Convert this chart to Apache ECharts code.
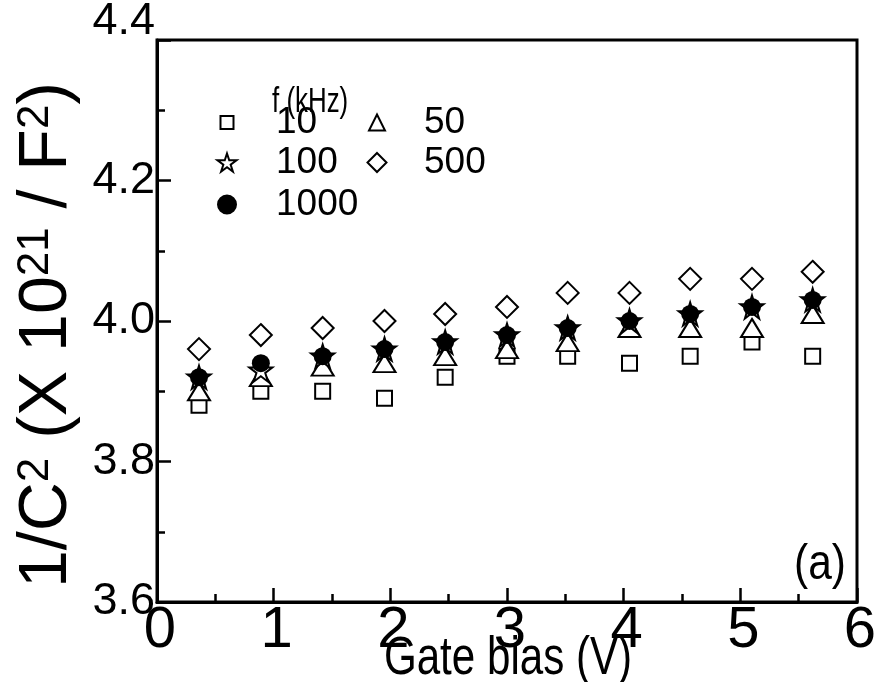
<!DOCTYPE html>
<html><head><meta charset="utf-8">
<script src="https://cdn.jsdelivr.net/npm/echarts@6/dist/echarts.min.js"></script>
<style>html,body{margin:0;padding:0;background:#fff}#c{width:882px;height:682px}</style>
</head><body><div id="c"></div>
<script>
// ---- data ----
const gateBias = [0.36, 0.89, 1.42, 1.95, 2.47, 3.0, 3.52, 4.05, 4.57, 5.1, 5.62];
const f10   = [3.88, 3.90, 3.90, 3.89, 3.92, 3.95, 3.95, 3.94, 3.95, 3.97, 3.95];
const f50   = [3.90, 3.92, 3.935, 3.94, 3.95, 3.96, 3.97, 3.99, 3.99, 3.99, 4.01];
const f100  = [3.92, 3.93, 3.95, 3.96, 3.97, 3.98, 3.99, 4.00, 4.01, 4.02, 4.03];
const f500  = [3.96, 3.98, 3.99, 4.00, 4.01, 4.02, 4.04, 4.04, 4.06, 4.06, 4.07];
const f1000 = [3.92, 3.94, 3.95, 3.96, 3.97, 3.98, 3.99, 4.00, 4.01, 4.02, 4.03];
const seriesNames = ['10', '50', '100', '500', '1000'];
const legendTitle = 'f (kHz)';
const panelLabel = '(a)';
const xTitle = 'Gate bias (V)';

// ---- styles ----
const SANS = '"Liberation Sans", Arial, sans-serif';
const STAR = 'path://M0,-10L2.24,-3.09L9.51,-3.09L3.63,1.18L5.88,8.09L0,3.82L-5.88,8.09L-3.63,1.18L-9.51,-3.09L-2.24,-3.09Z';
const hollow = {color: '#fff', borderColor: '#000', borderWidth: 2, opacity: 1};

const pair = arr => gateBias.map((x, i) => [x, arr[i]]);

const seriesDefs = [
  {name: seriesNames[0], data: f10,   symbol: 'rect',     size: 15,       style: hollow},
  {name: seriesNames[1], data: f50,   symbol: 'triangle', size: [22, 18], style: hollow},
  {name: seriesNames[3], data: f500,  symbol: 'diamond',  size: [22, 22], style: hollow},
  {name: seriesNames[2], data: f100,  symbol: STAR,       size: 23,       style: hollow},
  {name: seriesNames[4], data: f1000, symbol: 'circle',   size: 18,       style: {color: '#000', borderColor: '#000', borderWidth: 0, opacity: 1}}
];

const legendLayout = [
  {name: seriesNames[0], cx: 226, cy: 122, s: 13, tx: 275, fill: '#fff'},
  {name: seriesNames[1], cx: 376, cy: 122, s: 16, tx: 423, fill: '#fff'},
  {name: seriesNames[2], cx: 226, cy: 162, s: 19, tx: 275, fill: '#fff'},
  {name: seriesNames[3], cx: 376, cy: 162, s: 19, tx: 423, fill: '#fff'},
  {name: seriesNames[4], cx: 226, cy: 204, s: 18, tx: 275, fill: '#000'}
];

const chart = echarts.init(document.getElementById('c'), null, {renderer: 'canvas'});

const option = {
  animation: false,
  backgroundColor: '#fff',
  grid: {left: 157, right: 25, top: 40, bottom: 80, outerBoundsMode: 'none', containLabel: false,
         show: true, borderColor: '#000', borderWidth: 3, backgroundColor: 'transparent'},
  xAxis: {
    type: 'value', min: 0, max: 6, interval: 1,
    axisLine: {show: true, lineStyle: {color: '#000', width: 3}},
    axisTick: {show: true, inside: true, length: 14, lineStyle: {color: '#000', width: 2.5}},
    minorTick: {show: true, splitNumber: 2, length: 8, lineStyle: {color: '#000', width: 2.5}},
    splitLine: {show: false},
    axisLabel: {color: '#000', fontSize: 58, fontFamily: SANS, margin: 0, showMinLabel: true, showMaxLabel: true,
                padding: [0, 0, 0, 6]}
  },
  yAxis: {
    type: 'value', min: 3.6, max: 4.4, interval: 0.2,
    axisLine: {show: true, lineStyle: {color: '#000', width: 3}},
    axisTick: {show: true, inside: true, length: 14, lineStyle: {color: '#000', width: 2.5}},
    minorTick: {show: true, splitNumber: 2, length: 8, lineStyle: {color: '#000', width: 2.5}},
    splitLine: {show: false},
    axisLabel: {
      color: '#000', fontSize: 45, fontFamily: SANS, margin: 2, showMinLabel: true, showMaxLabel: true,
      formatter: v => (Math.abs(v - 4.4) < 1e-6 ? '{t|' + v.toFixed(1) + '}' : v.toFixed(1)),
      rich: {t: {fontSize: 45, fontFamily: SANS, color: '#000', padding: [0, 0, 36, 0]}}
    },
    name: '1/C{s|2} (X 10{s|21} / F{s|2})', nameLocation: 'middle', nameRotate: 90, nameGap: 75,
    nameTextStyle: {
      color: '#000', fontSize: 68, fontFamily: SANS, padding: [0, 28, 0, 0],
      rich: {s: {fontSize: 44, fontFamily: SANS, color: '#000', verticalAlign: 'top', padding: [0, 0, 16, 0]}}
    }
  },
  legend: legendLayout.map(l => ({
    data: [l.name], selectedMode: false, orient: 'horizontal', padding: 0,
    left: l.cx - l.s / 2, top: l.cy - 18, itemWidth: l.s, itemHeight: l.s,
    itemStyle: {color: l.fill, borderColor: '#000', borderWidth: 2},
    textStyle: {color: '#000', fontSize: 37, fontFamily: SANS, padding: [0, 0, 0, l.tx - l.cx - l.s / 2 - 5]}
  })),
  graphic: [
    {type: 'text', x: 272, y: 85, scaleX: 0.74, style: {text: legendTitle, fill: '#000', font: '35px ' + SANS}},
    {type: 'text', x: 846, y: 540, scaleX: 0.85, style: {text: panelLabel, fill: '#000', align: 'right', font: '50px ' + SANS}},
    {type: 'text', x: 508, y: 632, scaleX: 0.78, style: {text: xTitle, fill: '#000', align: 'center', verticalAlign: 'top', font: '54px ' + SANS}}
  ],
  series: seriesDefs.map(d => ({
    type: 'scatter', name: d.name, data: pair(d.data), symbol: d.symbol, symbolSize: d.size,
    itemStyle: d.style, emphasis: {disabled: true}
  }))
};
chart.setOption(option);
</script>
</body></html>
